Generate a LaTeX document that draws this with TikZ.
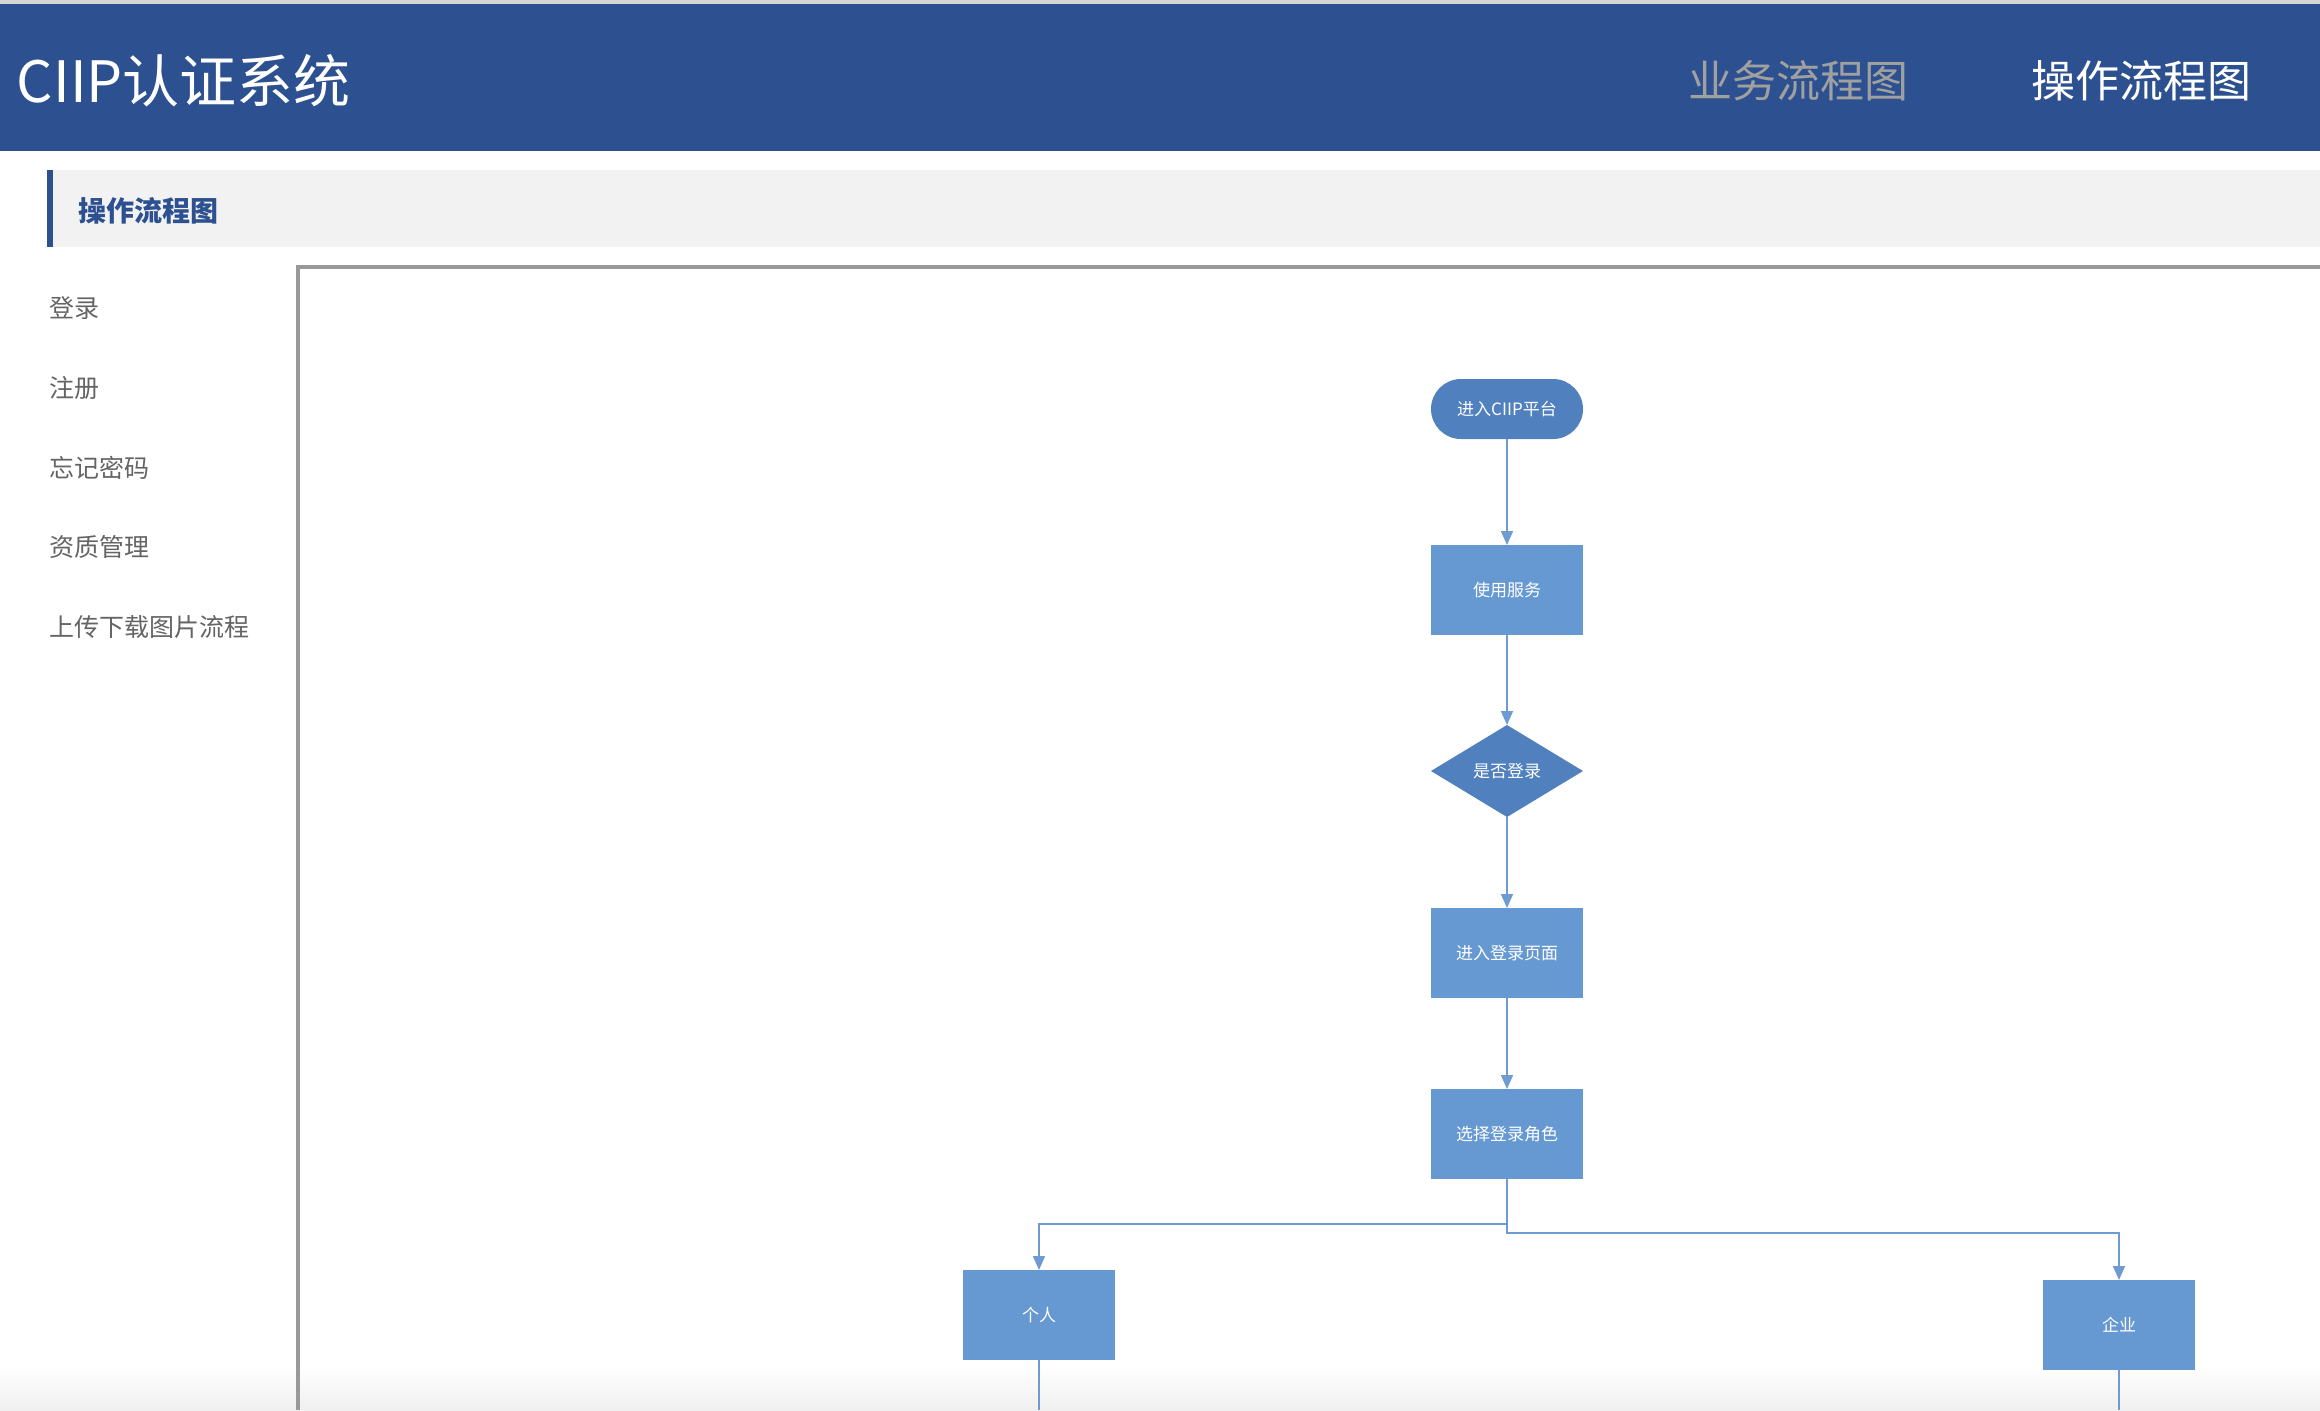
\documentclass[tikz,border=0pt]{standalone}
\usepackage{fontspec}
\setmainfont{Noto Sans CJK SC}
\usetikzlibrary{positioning,shapes.geometric,arrows.meta}
\definecolor{headblue}{RGB}{45,81,144}
\definecolor{topgray}{RGB}{212,212,212}
\definecolor{navgray}{RGB}{160,160,160}
\definecolor{bargray}{RGB}{242,242,242}
\definecolor{framegray}{RGB}{153,153,153}
\definecolor{sidegray}{RGB}{100,100,100}
\definecolor{termblue}{RGB}{80,128,190}
\definecolor{boxblue}{RGB}{102,153,210}
\definecolor{linkblue}{RGB}{110,156,210}
\newcommand\flowfont{\fontsize{8.5pt}{10pt}\selectfont}
\newcommand\sidefont{\fontsize{12.5pt}{15pt}\selectfont}
\newcommand\navfont{\fontsize{22pt}{26pt}\selectfont}
\newcommand\titlefont{\fontsize{28.5pt}{32pt}\selectfont}
\newcommand\barfont{\fontsize{14pt}{17pt}\selectfont}
\begin{document}
\begin{tikzpicture}
[x=0.5pt,y=-0.5pt,
 every node/.style={inner sep=0pt,outer sep=0pt},
 term/.style={rectangle,rounded corners=15pt,fill=termblue,minimum width=76pt,minimum height=30pt,text=white,font=\flowfont},
 box/.style={rectangle,fill=boxblue,minimum width=76pt,minimum height=45pt,text=white,font=\flowfont},
 test/.style={diamond,fill=termblue,minimum width=76pt,minimum height=46pt,text=white,font=\flowfont},
 side/.style={anchor=west,text=sidegray,font=\sidefont},
 link/.style={draw,color=linkblue,line width=0.8pt},
 >={Triangle[width=6pt,length=7pt]}]
\useasboundingbox (0,0) rectangle (2320,1410);
\fill[white] (0,0) rectangle (2320,1410);
\shade[top color=white,bottom color=black!6] (0,1365) rectangle (2320,1410);
\fill[topgray]  (0,0)    rectangle (2320,4);
\fill[headblue] (0,4)    rectangle (2320,151);
\fill[bargray]  (47,170) rectangle (2320,247);
\fill[headblue] (47,170) rectangle (53,247);
\draw[framegray,line width=2pt] (298,1410) -- (298,266.5) -- (2320,266.5);

\node[anchor=west,text=white,font=\titlefont] (title) at (17,81)   {CIIP认证系统};
\node[text=navgray,font=\navfont]             (nav1)  at (1798,81) {业务流程图};
\node[text=white,font=\navfont]               (nav2)  at (2141,81) {操作流程图};
\node[anchor=west,text=headblue,font=\barfont\bfseries] (bar) at (78,211) {操作流程图};

\node[side] (m1) at (49,308) {登录};
\node[side] (m2) at (49,388) {注册};
\node[side] (m3) at (49,468) {忘记密码};
\node[side] (m4) at (49,547) {资质管理};
\node[side] (m5) at (49,627) {上传下载图片流程};

\node[term] (s0) at (1507,409) {进入CIIP平台};
\node[box]  (s1)  [on grid,below=90.5pt of s0] {使用服务};
\node[test] (s2)  [on grid,below=90.5pt of s1] {是否登录};
\node[box]  (s3)  [on grid,below=91pt of s2]   {进入登录页面};
\node[box]  (s4)  [on grid,below=90.5pt of s3] {选择登录角色};
\node[box]  (r5A) [on grid,below  left=90.5pt and 234pt of s4] {个人};
\node[box]  (r5B) [on grid,below right=95.5pt and 306pt of s4] {企业};
\node[coordinate] (jA) [on grid,below=45pt of s4]   {};
\node[coordinate] (jB) [on grid,below=49.5pt of s4] {};
\node[coordinate] (eA) [on grid,below=47.5pt of r5A] {};
\node[coordinate] (eB) [on grid,below=42.5pt of r5B] {};
\path[link,->] (s0) edge (s1);
\path[link,->] (s1) edge (s2);
\path[link,->] (s2) edge (s3);
\path[link,->] (s3) edge (s4);
\draw[link,->] (s4) -- (jA) -| (r5A);
\draw[link,->] (s4) -- (jB) -| (r5B);
% both branches run on below the visible part
\path[link] (r5A) edge (eA);
\path[link] (r5B) edge (eB);
\end{tikzpicture}
\end{document}
